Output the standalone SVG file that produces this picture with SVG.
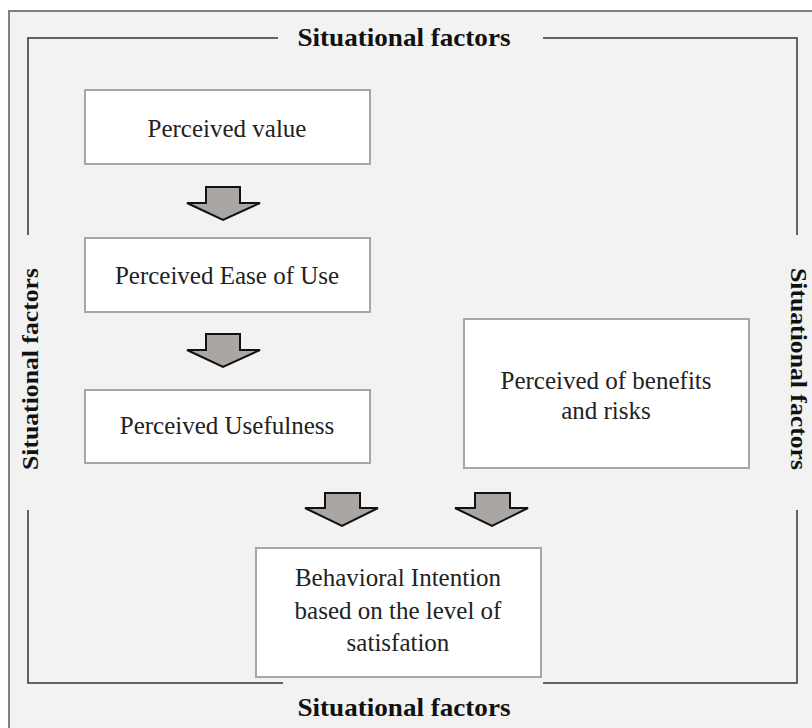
<svg xmlns="http://www.w3.org/2000/svg" width="812" height="728" viewBox="0 0 812 728">
<style>
.box{fill:#ffffff;stroke:#a6a6a6;stroke-width:2}
.t{font-family:"Liberation Serif","DejaVu Serif",serif;font-size:25px;fill:#222;text-anchor:middle}
.sf{font-family:"Liberation Serif","DejaVu Serif",serif;font-size:25px;font-weight:bold;fill:#111;text-anchor:middle}
.sv{font-family:"Liberation Serif","DejaVu Serif",serif;font-size:24px;font-weight:bold;fill:#111;text-anchor:middle}
.fr{stroke:#333;stroke-width:1.5;fill:none}
.ar{fill:#aaa6a4;stroke:#111;stroke-width:2;stroke-linejoin:miter}
</style>
<rect x="0" y="0" width="812" height="728" fill="#ffffff"/>
<rect x="9" y="11" width="812" height="730" fill="#f2f2f2" stroke="#808080" stroke-width="2"/>
<g id="frame">
<polyline class="fr" points="278,38 28,38 28,235"/>
<polyline class="fr" points="543,38 797,38 797,235"/>
<polyline class="fr" points="28,510 28,683 283,683"/>
<polyline class="fr" points="543,683 797,683 797,510"/>
<text class="sf" x="404" y="46" textLength="213" lengthAdjust="spacingAndGlyphs">Situational factors</text>
<text class="sf" x="404" y="716" textLength="213" lengthAdjust="spacingAndGlyphs">Situational factors</text>
<text class="sv" transform="translate(38,369) rotate(-90)" textLength="202" lengthAdjust="spacingAndGlyphs">Situational factors</text>
<text class="sv" transform="translate(791,369) rotate(90)" textLength="202" lengthAdjust="spacingAndGlyphs">Situational factors</text>
</g>
<g id="n1"><rect class="box" x="85" y="90" width="285" height="74"/><text class="t" x="227" y="137">Perceived value</text></g>
<g id="n2"><rect class="box" x="85" y="238" width="285" height="74"/><text class="t" x="227" y="284">Perceived Ease of Use</text></g>
<g id="n3"><rect class="box" x="85" y="390" width="285" height="73"/><text class="t" x="227" y="434">Perceived Usefulness</text></g>
<g id="n4"><rect class="box" x="464" y="319" width="285" height="149"/><text class="t" x="606" y="389">Perceived of benefits</text><text class="t" x="606" y="419">and risks</text></g>
<g id="n5"><rect class="box" x="256" y="548" width="285" height="129"/><text class="t" x="398" y="586">Behavioral Intention</text><text class="t" x="398" y="619">based on the level of</text><text class="t" x="398" y="651">satisfation</text></g>
<g id="connectors">
<polygon class="ar" points="206,187 240,187 240,203 260,203 223,220 187,203 206,203"/>
<polygon class="ar" points="206,334 240,334 240,350 260,350 223,367 187,350 206,350"/>
<polygon class="ar" points="325,493 360,493 360,508 378,508 342,526 305,508 325,508"/>
<polygon class="ar" points="475,493 510,493 510,508 528,508 492,526 455,508 475,508"/>
</g>
</svg>
